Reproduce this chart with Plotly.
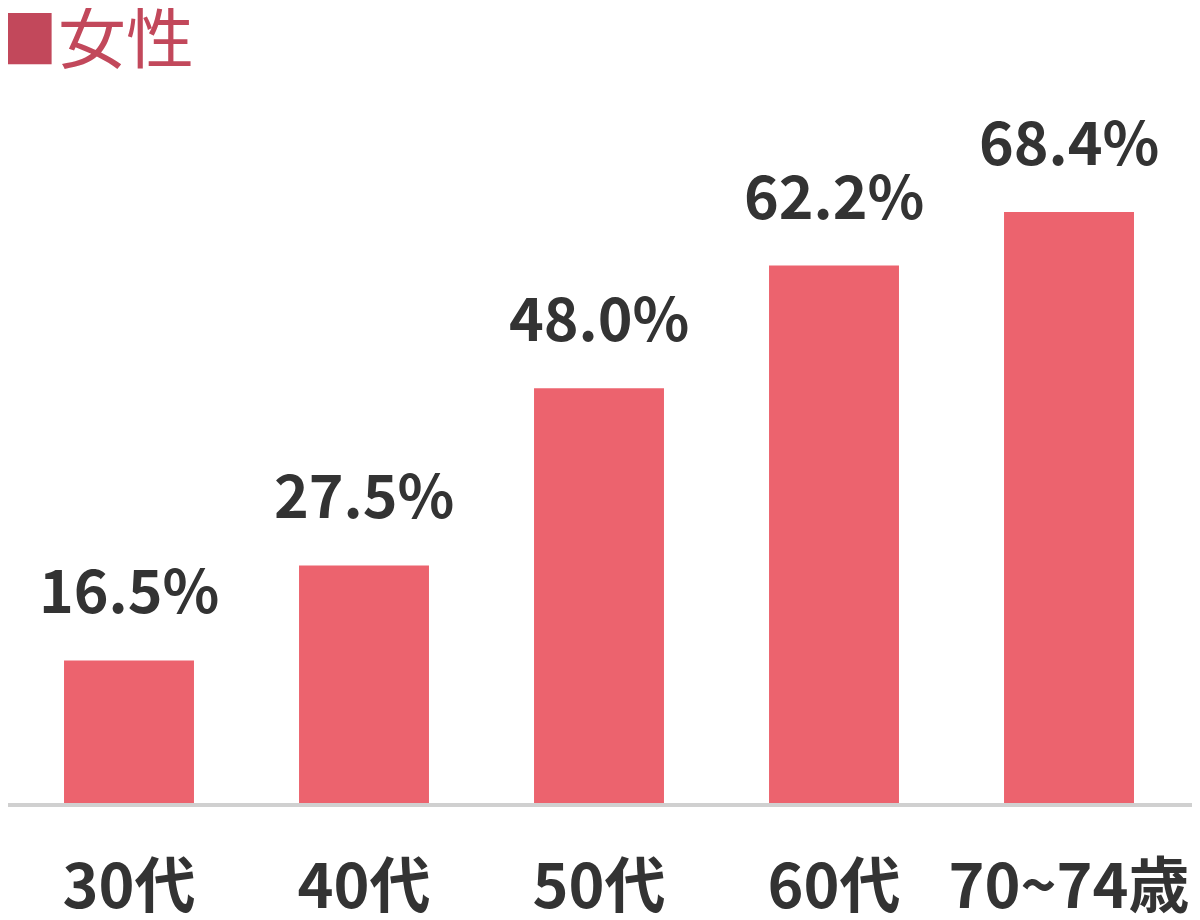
import plotly.graph_objects as go

categories = ["30代", "40代", "50代", "60代", "70~74歳"]
values = [16.5, 27.5, 48.0, 62.2, 68.4]
value_labels = ["16.5%", "27.5%", "48.0%", "62.2%", "68.4%"]
title_mark = "■"
title_text = "女性"

BAR = "#EC636E"
TXT = "#333333"
TITLE = "#C2485B"
FONT = "Noto Sans CJK JP"

fig = go.Figure()
fig.add_trace(go.Bar(
    x=categories, y=values, marker=dict(color=BAR, line=dict(width=0)),
    hoverinfo="skip",
))

for c, v, t in zip(categories, values, value_labels):
    fig.add_annotation(
        x=c, y=v, text=t, showarrow=False, xanchor="center", yanchor="bottom",
        yshift=28, font=dict(family=FONT, size=59, color=TXT, weight="bold"),
    )

fig.add_annotation(
    x=0, y=1, xref="paper", yref="paper", xanchor="left", yanchor="top",
    text=f'<span style="font-size:64px">{title_mark}</span>{title_text}',
    showarrow=False, xshift=-16, yshift=26,
    font=dict(family=FONT, size=68, color=TITLE),
)

fig.update_layout(
    width=1190, height=920,
    margin=dict(l=0, r=0, t=0, b=125),
    paper_bgcolor="white", plot_bgcolor="white",
    bargap=0.447, showlegend=False,
    xaxis=dict(
        type="category", range=[-0.5149, 4.5489],
        showline=True, linecolor="#D0D0D0", linewidth=4,
        showgrid=False, zeroline=False, ticks="",
        tickfont=dict(family=FONT, size=61, color=TXT, weight="bold"),
        ticklabelstandoff=28,
    ),
    yaxis=dict(
        range=[0, 92.01], visible=False, showgrid=False, zeroline=False,
    ),
)

fig.write_html("out.html")
